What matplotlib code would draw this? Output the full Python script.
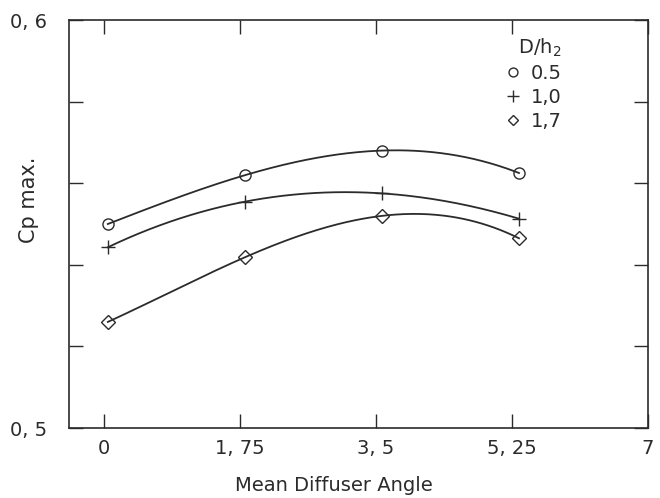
import numpy as np
import matplotlib
matplotlib.use('Agg')
import matplotlib.pyplot as plt

# mean diffuser angle of the measured points
angle = [0.05, 1.82, 3.58, 5.34]
# Cp max for each D/h2
cp_05 = [0.550, 0.562, 0.568, 0.5625]
cp_10 = [0.5443, 0.5555, 0.5575, 0.5513]
cp_17 = [0.5260, 0.5419, 0.5520, 0.5465]
series_labels = ['0.5', '1,0', '1,7']
markers = ['o', '+', 'D']

xticks = [0, 1.75, 3.5, 5.25, 7]
xtick_labels = ['0', '1, 75', '3, 5', '5, 25', '7']
yticks = [0.5, 0.52, 0.54, 0.56, 0.58, 0.6]
ytick_labels = ['0, 5', '', '', '', '', '0, 6']

plt.rcParams['font.family'] = ['DejaVu Sans']
ink = '#2b2b2b'

fig = plt.figure(figsize=(6.6, 4.98), dpi=100)
ax = fig.add_axes([69/660, 1-428/498, 579/660, 408/498])

for ys, m, lab in zip([cp_05, cp_10, cp_17], markers, series_labels):
    # smooth curve through the four measured points (as drawn in the original)
    coef = np.polyfit(angle, ys, 3)
    xs = np.linspace(angle[0], angle[-1], 200)
    ax.plot(xs, np.polyval(coef, xs), color=ink, lw=1.3)
    ms = 8 if m == 'o' else (10 if m == '+' else 7)
    ax.plot(angle, ys, ls='none', marker=m, ms=ms, mfc='none', mec=ink, mew=1.0)
    ax.plot([], [], ls='none', marker=m, ms=ms*0.8, mfc='none', mec=ink, mew=1.0, label=lab)

ax.set_xlim(-0.45, 7)
ax.set_ylim(0.5, 0.6)
ax.set_xticks(xticks)
ax.set_xticklabels(xtick_labels)
ax.set_yticks(yticks)
ax.set_yticklabels(ytick_labels)
ax.tick_params(direction='in', length=10, width=1.0, color=ink,
               top=True, right=True, labelsize=14, labelcolor=ink)
ax.tick_params(axis='x', pad=8)
ax.tick_params(axis='y', pad=16)
for s in ax.spines.values():
    s.set_linewidth(1.2)
    s.set_color(ink)

ax.set_xlabel('Mean Diffuser Angle', fontsize=14, color=ink)
ax.xaxis.set_label_coords(0.458, -0.118)
ax.set_ylabel('Cp max.', fontsize=15, color=ink)
ax.yaxis.set_label_coords(-0.052, 0.56)

leg = ax.legend(title='D/h$_2$', loc='upper left', bbox_to_anchor=(0.737, 0.982),
                frameon=False, fontsize=14, title_fontsize=14,
                handlelength=0.8, handletextpad=0.5, labelspacing=0.25,
                borderpad=0, labelcolor=ink)
leg.get_title().set_color(ink)
leg._legend_box.align = 'right'

fig.savefig('out.png', dpi=100)
